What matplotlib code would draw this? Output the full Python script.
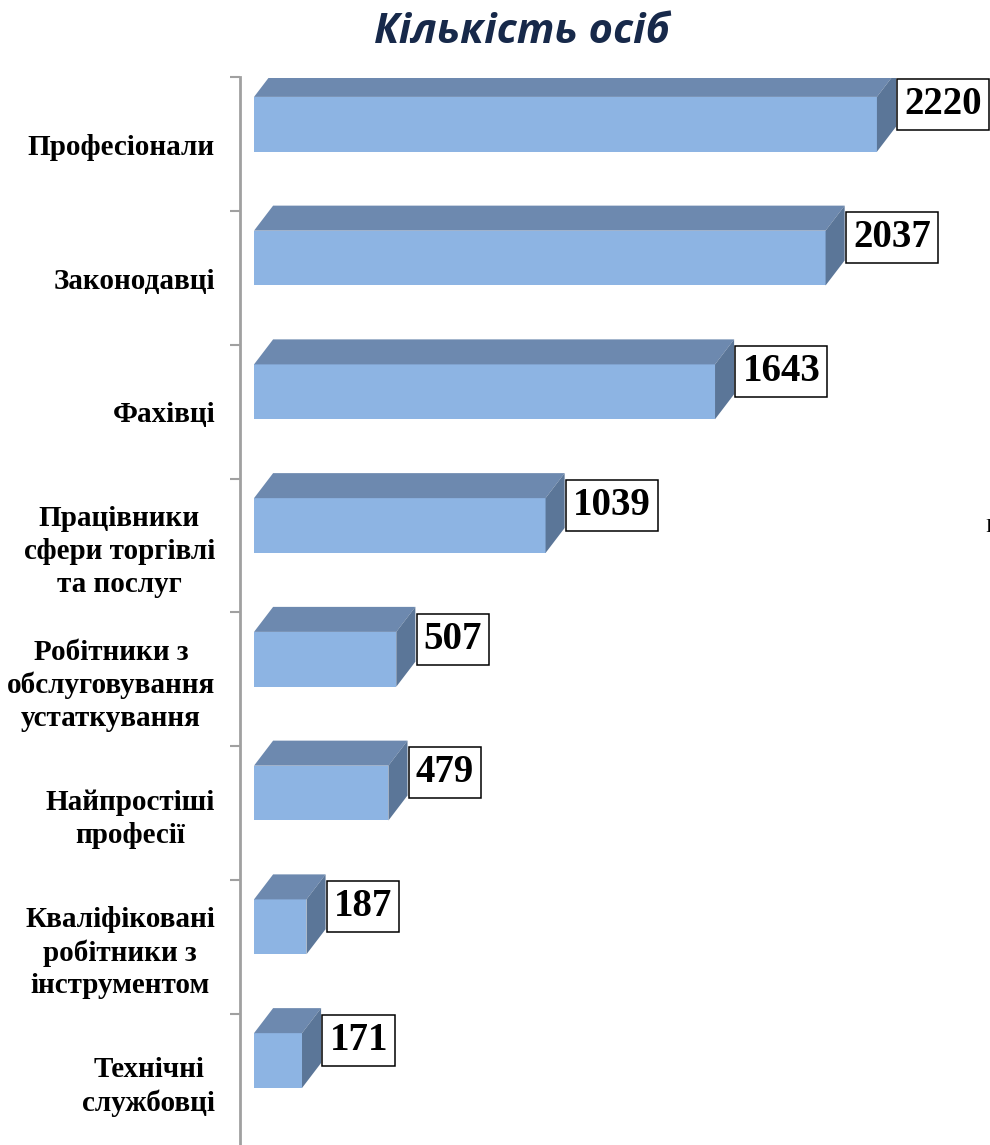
import numpy as np
import matplotlib
matplotlib.use("Agg")
import matplotlib.pyplot as plt
from matplotlib.patches import Polygon
from matplotlib import font_manager as fm

categories = ["Професіонали", "Законодавці", "Фахівці",
              "Працівники\nсфери торгівлі\nта послуг",
              "Робітники з\nобслуговування\nустаткування",
              "Найпростіші\nпрофесії",
              "Кваліфіковані\nробітники з\nінструментом",
              "Технічні\nслужбовці"]
values = [2220, 2037, 1643, 1039, 507, 479, 187, 171]
title = "Кількість осіб"

front_col = "#8db4e3"
top_col = "#6d89af"
side_col = "#5b7698"

# find a bold serif file directly (Times-like)
bold_file = None
for f in fm.findSystemFonts():
    name = f.split("/")[-1].lower()
    if name.startswith("liberationserif-bold."):
        bold_file = f
        break
if bold_file:
    def serif_bold(size):
        return fm.FontProperties(fname=bold_file, size=size)
else:
    def serif_bold(size):
        return fm.FontProperties(family="serif", weight="bold", size=size)

W, H = 990, 1145
fig = plt.figure(figsize=(W / 100, H / 100), dpi=100)
# left spine at x=240, top at 77.5, 8 bands of 133.8 px
ax = fig.add_axes([240 / W, 1 - 1147.5 / H, (W - 240) / W, 1070 / H])
ax.set_xlim(-50, 2623)
ax.set_ylim(7.5, -0.5)

h = 0.41       # front face height (band units)
dx = 68        # depth in value units
dy = 0.187     # depth in band units
n = len(values)
yc = np.arange(n) - 0.15

ax.barh(yc, values, height=h, left=0, color=front_col, zorder=2)
for v, y in zip(values, yc):
    top = Polygon([(0, y - h / 2), (dx, y - h / 2 - dy), (v + dx, y - h / 2 - dy), (v, y - h / 2)],
                  closed=True, fc=top_col, ec="none", zorder=2)
    side = Polygon([(v, y - h / 2), (v + dx, y - h / 2 - dy), (v + dx, y + h / 2 - dy), (v, y + h / 2)],
                   closed=True, fc=side_col, ec="none", zorder=2)
    ax.add_patch(top)
    ax.add_patch(side)
    ax.annotate(str(v), xy=(v + dx, y - 0.15), xytext=(6, 0), textcoords="offset points",
                ha="left", va="center", fontproperties=serif_bold(28), zorder=3,
                bbox=dict(boxstyle="square,pad=0.18", fc="white", ec="black", lw=1.1))

for s in ["top", "right", "bottom"]:
    ax.spines[s].set_visible(False)
ax.spines["left"].set_color("#a0a0a0")
ax.spines["left"].set_linewidth(2)
ax.set_xticks([])
ax.set_yticks(np.arange(n))
ax.set_yticklabels(categories)
for lbl in ax.get_yticklabels():
    lbl.set_fontproperties(serif_bold(21))
    lbl.set_multialignment("center")
    lbl.set_linespacing(1.27)
ax.tick_params(axis="y", which="major", length=0, pad=18)
ax.set_yticks(np.arange(n) - 0.5, minor=True)
ax.tick_params(axis="y", which="minor", length=7, width=1.5, color="#a0a0a0", direction="out")

fig.text(522 / W, 1 - 43 / H, title, ha="center", va="baseline", fontsize=30,
         fontweight="bold", fontstyle="italic", family="Open Sans", color="#17294a")
fig.text(985 / W, 1 - 527 / H, "Р", ha="left", va="center", fontsize=14,
         family="Liberation Serif")

fig.savefig("out.png", dpi=100)
